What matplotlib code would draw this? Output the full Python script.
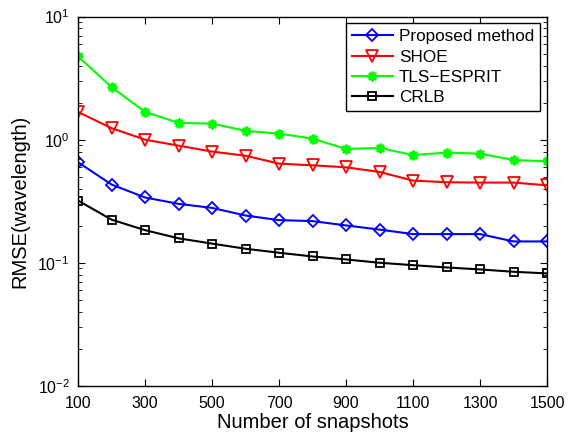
import numpy as np
import matplotlib
matplotlib.use('Agg')
import matplotlib.pyplot as plt
from matplotlib.ticker import LogLocator, NullFormatter

plt.rcParams['font.family'] = ['Liberation Sans', 'DejaVu Sans']
plt.rcParams['mathtext.fontset'] = 'custom'
plt.rcParams['mathtext.rm'] = 'Liberation Sans'

snapshots = [100, 200, 300, 400, 500, 600, 700, 800, 900, 1000, 1100, 1200, 1300, 1400, 1500]
proposed = [0.655, 0.432, 0.339, 0.301, 0.279, 0.242, 0.222, 0.218, 0.201, 0.186, 0.171, 0.171, 0.171, 0.149, 0.149]
shoe = [1.68, 1.24, 1.0, 0.894, 0.80, 0.741, 0.639, 0.619, 0.596, 0.547, 0.465, 0.451, 0.448, 0.448, 0.426]
tls_esprit = [4.74, 2.67, 1.68, 1.37, 1.35, 1.18, 1.12, 1.02, 0.84, 0.857, 0.75, 0.785, 0.77, 0.684, 0.667]
crlb = [0.320, 0.224, 0.184, 0.158, 0.143, 0.130, 0.1206, 0.1125, 0.1064, 0.100, 0.0956, 0.0916, 0.0883, 0.0845, 0.0819]
xticks = [100, 300, 500, 700, 900, 1100, 1300, 1500]

fig = plt.figure(figsize=(5.74, 4.36), dpi=100)
ax = fig.add_axes([0.136, 0.115, 0.817, 0.847])

ax.semilogy(snapshots, proposed, color='blue', marker='D', markersize=6.5, markerfacecolor='none',
            markeredgewidth=1.3, linewidth=1.5, label='Proposed method')
ax.semilogy(snapshots, shoe, color='red', marker='v', markersize=8, markerfacecolor='none',
            markeredgewidth=1.3, linewidth=1.5, label='SHOE')
ax.semilogy(snapshots, tls_esprit, color='#00ff00', marker=(8, 2, 0), markersize=7,
            markeredgewidth=1.6, linewidth=1.5, label='TLS\u2212ESPRIT')
ax.semilogy(snapshots, crlb, color='black', marker='s', markersize=5.5, markerfacecolor='none',
            markeredgewidth=1.3, linewidth=1.5, label='CRLB')

ax.set_xlim(100, 1500)
ax.set_ylim(1e-2, 1e1)
ax.set_xticks(xticks)
ax.set_xticklabels([str(v) for v in xticks])
ax.yaxis.set_major_locator(LogLocator(base=10, numticks=10))
ax.yaxis.set_minor_locator(LogLocator(base=10, subs=np.arange(2, 10), numticks=10))
ax.yaxis.set_minor_formatter(NullFormatter())
ax.tick_params(which='both', direction='in', top=True, right=True, labelsize=11.5)
ax.tick_params(axis='x', pad=7)
ax.tick_params(axis='y', pad=6)
ax.tick_params(which='major', length=5)
ax.tick_params(which='minor', length=3)
for s in ax.spines.values():
    s.set_linewidth(1.0)

ax.set_xlabel('Number of snapshots', fontsize=14.5, labelpad=2)
ax.set_ylabel('RMSE(wavelength)', fontsize=14.5, labelpad=6)

leg = ax.legend(loc='upper right', fontsize=12.3, fancybox=False, framealpha=1,
                edgecolor='black', borderaxespad=0.4, handlelength=2.4,
                handletextpad=0.35, labelspacing=0.3, borderpad=0.35)
leg.get_frame().set_linewidth(1.0)

fig.savefig('out.png', dpi=100)
